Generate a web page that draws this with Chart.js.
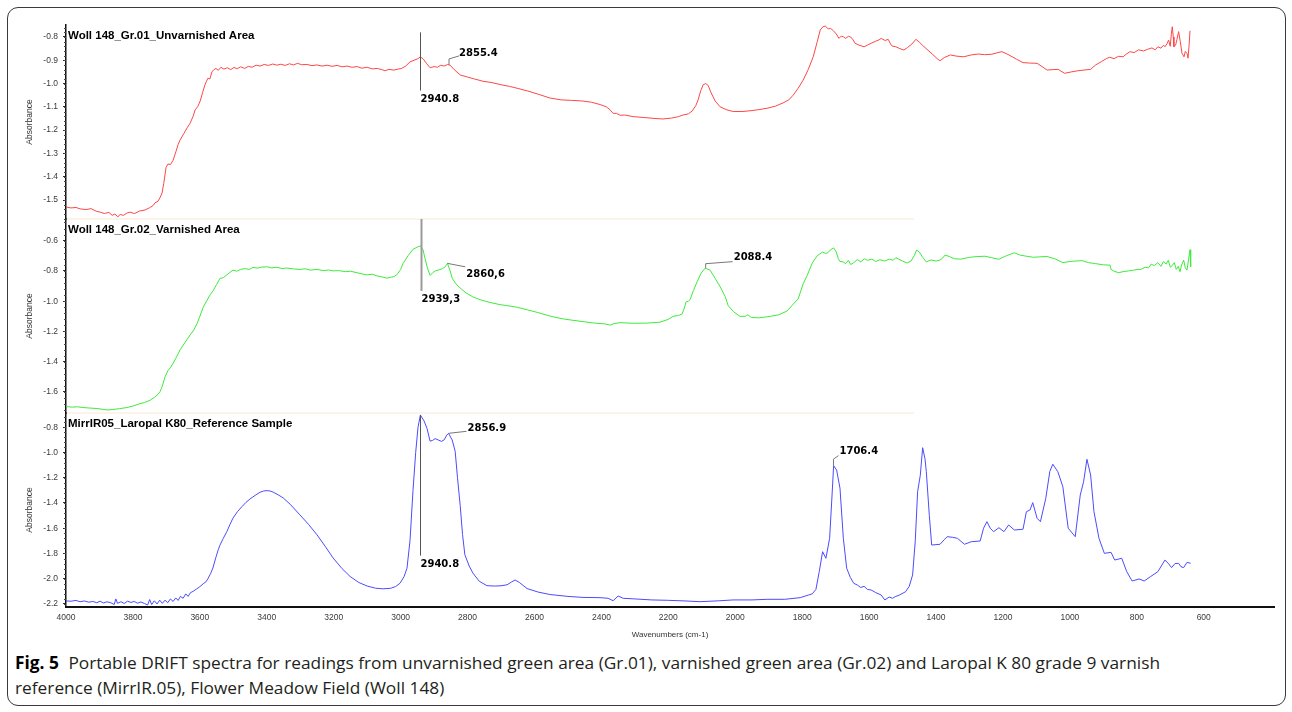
<!DOCTYPE html>
<html>
<head>
<meta charset="utf-8">
<script src="https://cdn.jsdelivr.net/npm/chart.js@4.4.1/dist/chart.umd.min.js"></script>
<style>
  body { margin: 0; background: #fff; width: 1292px; height: 712px; position: relative; overflow: hidden; }
  #frame { position: absolute; left: 7px; top: 7px; width: 1277px; height: 697px; border: 1px solid #3a3a3a; border-radius: 11px; }
  #myChart { position: absolute; left: 0; top: 0; }
  #caption { position: absolute; left: 15px; top: 650px; font-family: "Open Sans", "Noto Sans", sans-serif; font-size: 17px; line-height: 25px; color: #231f20; }
  #caption span { display: block; white-space: nowrap; transform-origin: 0 50%; }
  #caption b { font-weight: bold; color: #000; margin-right: 5px; }
</style>
</head>
<body>
<div id="frame"></div>
<canvas id="myChart" width="1292" height="640"></canvas>
<div id="caption"><span id="cap1"><b>Fig. 5</b> Portable DRIFT spectra for readings from unvarnished green area (Gr.01), varnished green area (Gr.02) and Laropal K 80 grade 9 varnish</span><span id="cap2">reference (MirrIR.05), Flower Meadow Field (Woll 148)</span></div>
<script>
// panel titles
var titles = ['Woll 148_Gr.01_Unvarnished Area', 'Woll 148_Gr.02_Varnished Area', 'MirrIR05_Laropal K80_Reference Sample'];

// tick labels
var xTicks = [4000, 3800, 3600, 3400, 3200, 3000, 2800, 2600, 2400, 2200, 2000, 1800, 1600, 1400, 1200, 1000, 800, 600];
var yTicks1 = [-0.8, -0.9, -1.0, -1.1, -1.2, -1.3, -1.4, -1.5];
var yTicks2 = [-0.6, -0.8, -1.0, -1.2, -1.4, -1.6];
var yTicks3 = [-0.8, -1.0, -1.2, -1.4, -1.6, -1.8, -2.0, -2.2];

// spectra: [wavenumber, absorbance]
var gr01 = [[4000,-1.530],[3985,-1.534],[3970,-1.532],[3958,-1.538],[3940,-1.541],[3925,-1.537],[3910,-1.548],[3898,-1.552],[3885,-1.558],[3872,-1.553],[3862,-1.566],[3854,-1.560],[3845,-1.572],[3838,-1.562],[3828,-1.566],[3818,-1.556],[3809,-1.552],[3795,-1.558],[3780,-1.547],[3764,-1.543],[3750,-1.533],[3740,-1.524],[3734,-1.512],[3725,-1.505],[3719,-1.49],[3713,-1.47],[3708,-1.43],[3701,-1.36],[3695,-1.345],[3688,-1.348],[3680,-1.33],[3671,-1.29],[3665,-1.262],[3659,-1.242],[3648,-1.215],[3638,-1.19],[3629,-1.17],[3620,-1.14],[3614,-1.113],[3606,-1.098],[3599,-1.075],[3592,-1.04],[3585,-1.006],[3580,-0.99],[3576,-0.977],[3570,-0.98],[3564,-0.95],[3558,-0.94],[3552,-0.935],[3545,-0.943],[3537,-0.93],[3528,-0.938],[3518,-0.932],[3508,-0.94],[3498,-0.931],[3488,-0.936],[3478,-0.928],[3466,-0.935],[3455,-0.926],[3444,-0.93],[3432,-0.921],[3420,-0.925],[3408,-0.918],[3395,-0.922],[3382,-0.916],[3370,-0.921],[3358,-0.917],[3345,-0.922],[3332,-0.915],[3320,-0.92],[3308,-0.913],[3296,-0.919],[3280,-0.918],[3265,-0.923],[3250,-0.92],[3235,-0.925],[3220,-0.921],[3205,-0.926],[3190,-0.922],[3175,-0.928],[3160,-0.925],[3145,-0.93],[3130,-0.927],[3116,-0.934],[3100,-0.93],[3085,-0.937],[3070,-0.935],[3056,-0.94],[3047,-0.945],[3035,-0.939],[3020,-0.942],[3008,-0.938],[2997,-0.935],[2985,-0.925],[2972,-0.907],[2960,-0.9],[2948,-0.893],[2941,-0.885],[2932,-0.895],[2922,-0.915],[2912,-0.932],[2900,-0.927],[2890,-0.93],[2880,-0.921],[2870,-0.925],[2860,-0.918],[2852,-0.921],[2840,-0.94],[2822,-0.963],[2800,-0.972],[2780,-0.98],[2754,-0.99],[2730,-0.995],[2700,-1.005],[2675,-1.012],[2652,-1.02],[2620,-1.032],[2590,-1.045],[2554,-1.062],[2520,-1.07],[2490,-1.072],[2455,-1.075],[2430,-1.08],[2404,-1.09],[2385,-1.1],[2374,-1.113],[2365,-1.128],[2355,-1.128],[2344,-1.136],[2330,-1.135],[2305,-1.142],[2270,-1.146],[2240,-1.15],[2216,-1.152],[2190,-1.148],[2170,-1.142],[2156,-1.135],[2140,-1.13],[2129,-1.118],[2118,-1.095],[2111,-1.07],[2103,-1.03],[2096,-1.005],[2088,-1.0],[2081,-1.008],[2072,-1.04],[2060,-1.075],[2045,-1.1],[2025,-1.113],[2006,-1.12],[1980,-1.12],[1956,-1.117],[1930,-1.112],[1905,-1.106],[1880,-1.097],[1857,-1.083],[1840,-1.07],[1827,-1.05],[1812,-1.02],[1797,-0.985],[1782,-0.94],[1767,-0.885],[1755,-0.82],[1746,-0.77],[1738,-0.756],[1731,-0.753],[1722,-0.765],[1715,-0.763],[1707,-0.773],[1698,-0.787],[1690,-0.806],[1683,-0.796],[1677,-0.799],[1670,-0.806],[1662,-0.797],[1655,-0.8],[1648,-0.812],[1642,-0.827],[1630,-0.835],[1615,-0.842],[1605,-0.835],[1594,-0.827],[1580,-0.818],[1570,-0.812],[1564,-0.806],[1552,-0.815],[1543,-0.81],[1536,-0.83],[1531,-0.839],[1520,-0.842],[1508,-0.85],[1496,-0.856],[1485,-0.845],[1472,-0.83],[1460,-0.81],[1450,-0.822],[1440,-0.836],[1430,-0.849],[1410,-0.875],[1395,-0.895],[1388,-0.902],[1375,-0.888],[1357,-0.877],[1340,-0.882],[1317,-0.885],[1295,-0.877],[1274,-0.873],[1255,-0.876],[1233,-0.874],[1215,-0.867],[1203,-0.863],[1185,-0.875],[1160,-0.895],[1140,-0.91],[1120,-0.912],[1098,-0.913],[1080,-0.93],[1068,-0.942],[1050,-0.94],[1035,-0.939],[1016,-0.956],[996,-0.95],[976,-0.945],[958,-0.942],[938,-0.939],[923,-0.92],[905,-0.905],[890,-0.892],[881,-0.887],[868,-0.893],[855,-0.883],[841,-0.885],[830,-0.872],[820,-0.863],[808,-0.867],[795,-0.855],[780,-0.86],[768,-0.853],[755,-0.847],[745,-0.855],[737,-0.842],[728,-0.848],[720,-0.835],[716,-0.842],[710,-0.83],[705,-0.813],[700,-0.84],[697,-0.79],[694,-0.756],[691,-0.8],[689,-0.842],[684,-0.835],[680,-0.81],[675,-0.777],[670,-0.82],[665,-0.87],[659,-0.885],[655,-0.862],[650,-0.87],[647,-0.891],[644,-0.84],[641,-0.773]];

var gr02 = [[4000,-1.697],[3980,-1.7],[3965,-1.698],[3949,-1.703],[3930,-1.706],[3910,-1.709],[3895,-1.713],[3877,-1.719],[3860,-1.716],[3840,-1.71],[3818,-1.703],[3800,-1.693],[3779,-1.677],[3765,-1.67],[3749,-1.655],[3735,-1.635],[3725,-1.615],[3719,-1.598],[3712,-1.56],[3704,-1.5],[3695,-1.457],[3688,-1.44],[3680,-1.41],[3670,-1.37],[3659,-1.322],[3645,-1.275],[3629,-1.223],[3618,-1.19],[3608,-1.146],[3600,-1.1],[3590,-1.04],[3580,-1.0],[3570,-0.96],[3560,-0.93],[3550,-0.89],[3540,-0.85],[3530,-0.845],[3519,-0.825],[3510,-0.81],[3501,-0.795],[3490,-0.802],[3478,-0.79],[3465,-0.785],[3452,-0.79],[3441,-0.777],[3428,-0.782],[3415,-0.775],[3399,-0.773],[3385,-0.78],[3370,-0.776],[3355,-0.784],[3340,-0.781],[3320,-0.787],[3301,-0.79],[3285,-0.786],[3270,-0.795],[3250,-0.79],[3230,-0.798],[3215,-0.794],[3202,-0.8],[3185,-0.798],[3165,-0.805],[3150,-0.802],[3130,-0.812],[3115,-0.82],[3100,-0.826],[3085,-0.822],[3070,-0.833],[3055,-0.84],[3041,-0.848],[3030,-0.842],[3020,-0.838],[3011,-0.825],[3000,-0.79],[2993,-0.752],[2978,-0.7],[2963,-0.658],[2950,-0.642],[2940,-0.635],[2933,-0.66],[2928,-0.71],[2920,-0.78],[2912,-0.83],[2904,-0.812],[2895,-0.798],[2885,-0.793],[2875,-0.785],[2867,-0.773],[2860,-0.75],[2852,-0.8],[2846,-0.848],[2835,-0.885],[2822,-0.913],[2805,-0.945],[2784,-0.972],[2760,-0.992],[2730,-1.01],[2703,-1.023],[2680,-1.03],[2652,-1.04],[2620,-1.058],[2590,-1.075],[2554,-1.098],[2520,-1.115],[2490,-1.125],[2455,-1.135],[2420,-1.145],[2390,-1.15],[2374,-1.158],[2362,-1.148],[2344,-1.142],[2305,-1.146],[2265,-1.145],[2225,-1.139],[2200,-1.12],[2186,-1.1],[2170,-1.095],[2159,-1.085],[2152,-1.045],[2147,-1.005],[2140,-1.0],[2135,-0.99],[2125,-0.93],[2114,-0.872],[2102,-0.815],[2090,-0.782],[2075,-0.795],[2060,-0.85],[2045,-0.905],[2030,-0.97],[2021,-1.03],[2005,-1.07],[1986,-1.1],[1970,-1.1],[1962,-1.09],[1952,-1.108],[1930,-1.11],[1914,-1.106],[1895,-1.1],[1870,-1.09],[1845,-1.065],[1827,-1.02],[1812,-0.985],[1797,-0.885],[1785,-0.83],[1770,-0.748],[1755,-0.7],[1739,-0.675],[1730,-0.685],[1723,-0.68],[1715,-0.66],[1706,-0.648],[1698,-0.675],[1692,-0.72],[1687,-0.738],[1678,-0.74],[1670,-0.752],[1662,-0.73],[1655,-0.758],[1646,-0.745],[1635,-0.725],[1625,-0.74],[1614,-0.72],[1605,-0.73],[1592,-0.722],[1580,-0.738],[1568,-0.726],[1553,-0.735],[1540,-0.722],[1528,-0.73],[1520,-0.712],[1512,-0.722],[1500,-0.735],[1487,-0.748],[1475,-0.735],[1465,-0.7],[1458,-0.662],[1450,-0.675],[1440,-0.71],[1429,-0.74],[1415,-0.728],[1400,-0.735],[1388,-0.728],[1380,-0.715],[1373,-0.695],[1360,-0.705],[1345,-0.72],[1325,-0.722],[1300,-0.71],[1275,-0.705],[1254,-0.703],[1235,-0.712],[1212,-0.723],[1190,-0.7],[1166,-0.68],[1150,-0.695],[1130,-0.703],[1109,-0.71],[1090,-0.707],[1068,-0.705],[1045,-0.72],[1021,-0.745],[1000,-0.738],[985,-0.735],[964,-0.732],[945,-0.745],[923,-0.752],[900,-0.76],[880,-0.762],[877,-0.79],[870,-0.8],[855,-0.812],[841,-0.805],[825,-0.8],[810,-0.795],[797,-0.79],[788,-0.79],[775,-0.776],[765,-0.78],[757,-0.755],[748,-0.765],[737,-0.745],[728,-0.77],[720,-0.738],[712,-0.755],[706,-0.73],[700,-0.775],[694,-0.765],[688,-0.745],[682,-0.79],[676,-0.77],[671,-0.805],[666,-0.76],[660,-0.728],[655,-0.78],[650,-0.795],[645,-0.72],[641,-0.66],[639,-0.772]];

var mirrir05 = [[4000,-2.176],[3985,-2.178],[3970,-2.172],[3958,-2.182],[3945,-2.176],[3932,-2.186],[3920,-2.18],[3908,-2.19],[3898,-2.178],[3888,-2.192],[3878,-2.183],[3866,-2.19],[3856,-2.205],[3851,-2.16],[3846,-2.195],[3836,-2.182],[3826,-2.196],[3816,-2.178],[3806,-2.188],[3796,-2.18],[3786,-2.194],[3776,-2.184],[3766,-2.196],[3756,-2.208],[3750,-2.165],[3744,-2.205],[3736,-2.175],[3728,-2.2],[3720,-2.17],[3712,-2.195],[3704,-2.17],[3696,-2.19],[3688,-2.16],[3680,-2.18],[3672,-2.152],[3665,-2.172],[3658,-2.14],[3650,-2.155],[3642,-2.12],[3635,-2.14],[3628,-2.11],[3620,-2.1],[3610,-2.082],[3600,-2.063],[3590,-2.04],[3582,-2.025],[3576,-2.0],[3568,-1.96],[3561,-1.915],[3552,-1.83],[3545,-1.77],[3540,-1.735],[3530,-1.68],[3519,-1.625],[3510,-1.57],[3501,-1.52],[3488,-1.47],[3474,-1.428],[3462,-1.395],[3450,-1.368],[3435,-1.34],[3420,-1.315],[3410,-1.305],[3399,-1.302],[3390,-1.305],[3381,-1.314],[3366,-1.335],[3351,-1.36],[3330,-1.41],[3301,-1.494],[3275,-1.57],[3250,-1.652],[3225,-1.745],[3202,-1.835],[3175,-1.92],[3151,-1.982],[3125,-2.03],[3100,-2.058],[3075,-2.075],[3053,-2.08],[3030,-2.076],[3015,-2.062],[3002,-2.036],[2990,-1.985],[2981,-1.917],[2972,-1.7],[2963,-1.3],[2955,-1.0],[2948,-0.8],[2941,-0.703],[2930,-0.75],[2921,-0.81],[2912,-0.91],[2905,-0.905],[2897,-0.89],[2888,-0.9],[2878,-0.912],[2870,-0.9],[2862,-0.862],[2857,-0.848],[2846,-0.9],[2837,-0.99],[2830,-1.2],[2822,-1.42],[2815,-1.65],[2808,-1.81],[2795,-1.9],[2784,-1.955],[2765,-2.02],[2742,-2.055],[2720,-2.058],[2700,-2.056],[2682,-2.048],[2668,-2.025],[2658,-2.01],[2645,-2.03],[2622,-2.078],[2590,-2.105],[2554,-2.125],[2500,-2.14],[2455,-2.148],[2404,-2.15],[2380,-2.155],[2365,-2.174],[2350,-2.137],[2335,-2.155],[2300,-2.16],[2250,-2.168],[2202,-2.171],[2150,-2.176],[2105,-2.182],[2050,-2.175],[2006,-2.168],[1950,-2.168],[1905,-2.163],[1852,-2.163],[1806,-2.15],[1782,-2.13],[1770,-2.12],[1759,-2.085],[1749,-1.944],[1739,-1.786],[1729,-1.838],[1718,-1.68],[1712,-1.4],[1706,-1.104],[1697,-1.14],[1687,-1.283],[1677,-1.68],[1667,-1.917],[1656,-1.99],[1646,-2.036],[1635,-2.05],[1625,-2.07],[1615,-2.06],[1605,-2.085],[1594,-2.089],[1580,-2.11],[1564,-2.129],[1553,-2.168],[1540,-2.145],[1530,-2.155],[1522,-2.142],[1510,-2.13],[1491,-2.103],[1480,-2.06],[1470,-1.97],[1462,-1.7],[1455,-1.31],[1447,-1.18],[1440,-0.962],[1433,-1.05],[1429,-1.152],[1420,-1.5],[1413,-1.733],[1400,-1.73],[1388,-1.727],[1375,-1.69],[1367,-1.667],[1350,-1.672],[1336,-1.68],[1315,-1.727],[1295,-1.707],[1268,-1.701],[1258,-1.6],[1248,-1.548],[1238,-1.6],[1228,-1.627],[1212,-1.596],[1197,-1.627],[1183,-1.574],[1166,-1.614],[1140,-1.608],[1130,-1.469],[1119,-1.455],[1111,-1.397],[1098,-1.521],[1088,-1.548],[1072,-1.363],[1060,-1.15],[1051,-1.093],[1036,-1.152],[1021,-1.271],[1005,-1.6],[984,-1.667],[969,-1.337],[959,-1.231],[949,-1.054],[938,-1.178],[928,-1.469],[913,-1.68],[897,-1.799],[877,-1.791],[866,-1.852],[845,-1.838],[830,-1.944],[814,-2.018],[793,-2.002],[778,-2.018],[760,-1.985],[737,-1.944],[716,-1.852],[706,-1.878],[696,-1.912],[686,-1.88],[675,-1.878],[668,-1.905],[660,-1.912],[650,-1.87],[639,-1.878]];

// vertical peak markers: axis, wavenumber, absorbance top / bottom, label
var markerAxis = ['y1', 'y2', 'y3'];
var markerWave = [2940.8, 2939.3, 2940.8];
var markerTop = [-0.78, -0.457, -0.702];
var markerBottom = [-1.03, -0.932, -1.817];
var markerText = ['2940.8', '2939,3', '2940.8'];

// leader-line peak labels
var peakAxis = ['y1', 'y2', 'y2', 'y3', 'y3'];
var peakWave = [2855.4, 2860.6, 2088.4, 2856.9, 1706.4];
var peakAbs = [-0.92, -0.75, -0.782, -0.848, -1.104];
var peakText = ['2855.4', '2860,6', '2088.4', '2856.9', '1706.4'];

var myChart;

function toXY(arr) {
    return arr.map(function (p) { return { x: p[0], y: p[1] }; });
}

function yAxis(ticks, min, max, weight) {
    return {
        type: 'linear',
        position: 'left',
        stack: 'spectra',
        stackWeight: 1,
        weight: weight,
        min: min,
        max: max,
        afterBuildTicks: function (sc) { sc.ticks = ticks.map(function (v) { return { value: v }; }); },
        afterFit: function (sc) { sc.width = 66; },
        border: { display: true, color: '#111', width: 1.5 },
        grid: { drawOnChartArea: false, drawTicks: true, tickLength: 3, color: '#333' },
        ticks: {
            padding: 5,
            color: '#3a3a3a',
            font: { family: 'Liberation Sans, Arial, sans-serif', size: 8.5 },
            callback: function (v) { return v.toFixed(1); }
        },
        title: {
            display: true,
            text: 'Absorbance',
            color: '#333',
            padding: { top: 25, bottom: 0 },
            font: { family: 'Liberation Sans, Arial, sans-serif', size: 8.5 }
        }
    };
}

// titles, markers, minor ticks, separators
var overlay = {
    id: 'overlay',
    afterDraw: function (chart) {
        var ctx = chart.ctx;
        var xs = chart.scales.x;
        var area = chart.chartArea;
        var axes = ['y1', 'y2', 'y3'];
        var minorStep = { y1: 0.02, y2: 0.04, y3: 0.04 };
        ctx.save();

        // separators between panels
        ctx.strokeStyle = '#fbf1e2';
        ctx.lineWidth = 1.5;
        ['y1', 'y2'].forEach(function (id) {
            var b = chart.scales[id].bottom;
            ctx.beginPath();
            ctx.moveTo(area.left + 1, b);
            ctx.lineTo(area.left + (area.right - area.left) * 0.702, b);
            ctx.stroke();
        });

        // minor ticks
        ctx.strokeStyle = '#444';
        ctx.lineWidth = 1;
        ctx.beginPath();
        axes.forEach(function (id) {
            var sc = chart.scales[id];
            var st = minorStep[id];
            for (var i = Math.ceil(sc.min / st); i <= Math.floor(sc.max / st); i++) {
                var py = Math.round(sc.getPixelForValue(i * st)) + 0.5;
                ctx.moveTo(area.left - 2, py);
                ctx.lineTo(area.left, py);
            }
        });
        ctx.stroke();

        // panel titles
        ctx.fillStyle = '#000';
        ctx.font = 'bold 11.5px "Liberation Sans", Arial, sans-serif';
        ctx.textAlign = 'left';
        ctx.textBaseline = 'middle';
        axes.forEach(function (id, i) {
            ctx.fillText(titles[i], area.left + 2, chart.scales[id].top + 10.5);
        });

        // vertical markers
        ctx.font = 'bold 10px "DejaVu Sans", Verdana, sans-serif';
        for (var m = 0; m < markerWave.length; m++) {
            var ys = chart.scales[markerAxis[m]];
            var mx = Math.round(xs.getPixelForValue(markerWave[m])) + 0.5;
            var y0 = ys.getPixelForValue(markerTop[m]);
            var y1 = ys.getPixelForValue(markerBottom[m]);
            ctx.strokeStyle = m === 1 ? '#9a9a9a' : '#555';
            ctx.lineWidth = m === 1 ? 2 : 1;
            ctx.beginPath();
            ctx.moveTo(mx, y0);
            ctx.lineTo(mx, y1);
            ctx.stroke();
            ctx.fillText(markerText[m], mx, y1 + 9);
        }

        // leader labels: [dx,dy] points and text offset per label
        var leaders = [
            { pts: [[0, -6], [10, -9]], tx: 10, ty: -12 },
            { pts: [[18, 3.5]], tx: 19, ty: 11 },
            { pts: [[0, -4.5], [27, -6.5]], tx: 28, ty: -10.5 },
            { pts: [[18, -2]], tx: 19, ty: -5 },
            { pts: [[0, -6.5], [5, -10]], tx: 6, ty: -14 }
        ];
        ctx.strokeStyle = '#777';
        ctx.lineWidth = 1;
        for (var k = 0; k < peakWave.length; k++) {
            var sy = chart.scales[peakAxis[k]];
            var ax = xs.getPixelForValue(peakWave[k]);
            var ay = sy.getPixelForValue(peakAbs[k]);
            var L = leaders[k];
            ctx.beginPath();
            ctx.moveTo(ax, ay);
            L.pts.forEach(function (p) { ctx.lineTo(ax + p[0], ay + p[1]); });
            ctx.stroke();
            ctx.fillText(peakText[k], ax + L.tx, ay + L.ty);
        }
        ctx.restore();
    }
};

function drawChart() {
    var ctx = document.getElementById('myChart').getContext('2d');
    var common = { borderWidth: 1, pointRadius: 0, tension: 0, fill: false };
    myChart = new Chart(ctx, {
        type: 'line',
        data: {
            datasets: [
                Object.assign({ label: titles[0], data: toXY(gr01), borderColor: 'rgb(255,70,70)', yAxisID: 'y1' }, common),
                Object.assign({ label: titles[1], data: toXY(gr02), borderColor: 'rgb(60,235,60)', yAxisID: 'y2' }, common),
                Object.assign({ label: titles[2], data: toXY(mirrir05), borderColor: 'rgb(75,75,255)', yAxisID: 'y3' }, common)
            ]
        },
        options: {
            responsive: false,
            animation: false,
            layout: { padding: { top: 25, right: 18, bottom: 0, left: 0 } },
            plugins: { legend: { display: false }, tooltip: { enabled: false } },
            scales: {
                x: {
                    type: 'linear',
                    reverse: true,
                    min: 390,
                    max: 4000,
                    afterBuildTicks: function (sc) { sc.ticks = xTicks.map(function (v) { return { value: v }; }); },
                    afterFit: function (sc) { sc.height = 33; },
                    border: { display: true, color: '#111', width: 2 },
                    grid: { drawOnChartArea: false, drawTicks: false },
                    ticks: {
                        padding: 6,
                        autoSkip: false,
                        maxRotation: 0,
                        color: '#3a3a3a',
                        font: { family: 'Liberation Sans, Arial, sans-serif', size: 8.5 },
                        callback: function (v) { return String(v); }
                    },
                    title: {
                        display: true,
                        text: 'Wavenumbers (cm-1)',
                        color: '#333',
                        padding: { top: 0, bottom: 0.5 },
                        font: { family: 'Liberation Sans, Arial, sans-serif', size: 8 }
                    }
                },
                y1: yAxis(yTicks1, -1.5815, -0.7485, 3),
                y2: yAxis(yTicks2, -1.739, -0.457, 2),
                y3: yAxis(yTicks3, -2.224, -0.687, 1)
            }
        },
        plugins: [overlay]
    });
}

// caption: squeeze to the narrow face of the original
function fitCaption() {
    var c1 = document.getElementById('cap1');
    var c2 = document.getElementById('cap2');
    c1.style.display = 'inline-block';
    var k = 1145 / c1.getBoundingClientRect().width;
    c1.style.display = 'block';
    c1.style.transform = 'scaleX(' + k + ')';
    c2.style.transform = 'scaleX(' + k + ')';
}

drawChart();
fitCaption();
</script>
</body>
</html>
